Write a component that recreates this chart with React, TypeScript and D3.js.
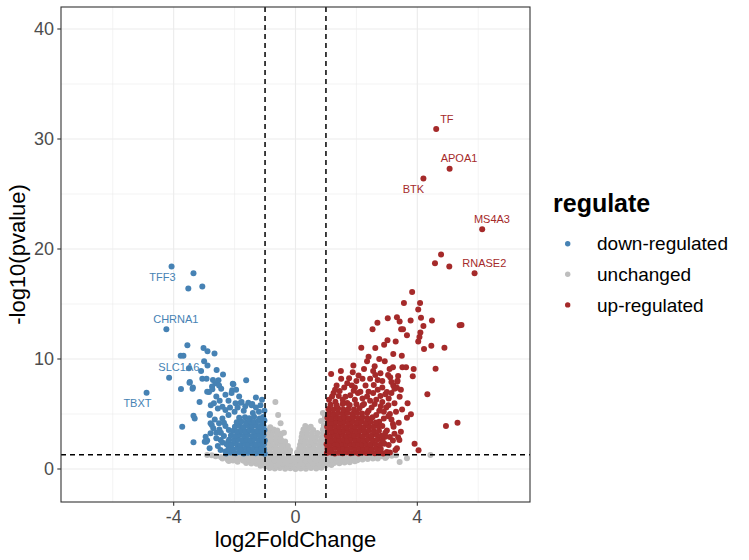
import React from "react";
import * as d3 from "d3";

type P = [number, number];

const categories = ["down-regulated", "unchanged", "up-regulated"];
const colors = ["#4682B4", "#BEBEBE", "#A52A2A"];

const xTicks = [-4, 0, 4];
const yTicks = [0, 10, 20, 30, 40];
const xMinor = [-6, -2, 2, 6];
const yMinor = [5, 15, 25, 35];
const fcCut = [-1, 1];
const pCut = 1.301;

const unchanged: P[] = [
  [-0.85,0.1],[-0.68,0.04],[-0.51,0.08],[-0.34,0.02],[-0.17,0.06],[0,0.01],[0.17,0.05],[0.34,0.03],[0.51,0.09],[0.68,0.05],[0.85,0.12],
  [-1.15,0.3],[-0.98,0.24],[-0.8,0.28],[-0.62,0.22],[-0.44,0.27],[-0.26,0.2],[-0.08,0.25],[0.1,0.21],[0.28,0.26],[0.46,0.23],[0.64,0.29],[0.82,0.25],[1.0,0.31],[1.18,0.36],
  [-1.62,0.55],[-1.45,0.5],[-1.28,0.47],[-1.11,0.52],[-0.94,0.46],[-0.77,0.5],[-0.6,0.44],[-0.43,0.49],[-0.26,0.45],[-0.09,0.48],[0.08,0.44],[0.25,0.5],[0.42,0.46],[0.59,0.51],[0.76,0.47],[0.93,0.53],[1.1,0.49],[1.27,0.55],[1.44,0.52],[1.61,0.58],[1.78,0.62],
  [-2.22,0.82],[-2.05,0.78],[-1.88,0.84],[-1.71,0.76],[-1.54,0.81],[-1.37,0.75],[-1.2,0.8],[-1.03,0.74],[-0.86,0.79],[-0.69,0.73],[-0.52,0.78],[-0.35,0.72],[-0.18,0.77],[-0.01,0.71],[0.16,0.76],[0.33,0.72],[0.5,0.78],[0.67,0.74],[0.84,0.8],[1.01,0.75],[1.18,0.81],[1.35,0.77],[1.52,0.83],[1.69,0.79],[1.86,0.85],[2.03,0.8],[2.2,0.86],[2.37,0.9],[2.54,0.95],
  [-2.62,1.15],[-2.45,1.1],[-2.28,1.17],[-2.11,1.08],[-1.94,1.14],[-1.77,1.07],[-1.6,1.13],[-1.43,1.06],[-1.26,1.12],[-1.09,1.05],[-0.92,1.11],[-0.75,1.04],[-0.58,1.1],[-0.41,1.03],[-0.24,1.09],[-0.07,1.02],[0.1,1.08],[0.27,1.03],[0.44,1.1],[0.61,1.05],[0.78,1.11],[0.95,1.06],[1.12,1.12],[1.29,1.07],[1.46,1.13],[1.63,1.08],[1.8,1.14],[1.97,1.09],[2.14,1.15],[2.31,1.1],[2.48,1.16],[2.65,1.11],[2.82,1.17],[2.99,1.12],[3.16,1.2],[3.3,1.25],
  [-2.9,1.27],[-2.19,0.73],[3.42,0.64],[3.66,0.97],[4.43,1.27],[-2.4,0.95],[2.7,0.95],[2.95,1.0],[-2.75,1.25],[-1.9,0.65],[1.95,0.7],
  [-0.98,1.5],[-0.82,1.46],[-0.66,1.52],[-0.5,1.47],[-0.34,1.53],[-0.19,1.45],
  [-0.95,1.85],[-0.79,1.9],[-0.63,1.83],[-0.47,1.88],[-0.31,1.82],[-0.18,1.7],
  [-0.97,2.2],[-0.81,2.25],[-0.65,2.18],[-0.49,2.24],[-0.35,2.2],[-0.25,2.1],
  [-0.94,2.55],[-0.78,2.6],[-0.62,2.52],[-0.46,2.58],[-0.34,2.5],
  [-0.96,2.9],[-0.8,2.95],[-0.64,2.88],[-0.5,2.92],
  [-0.93,3.25],[-0.77,3.3],[-0.61,3.22],[-0.47,3.2],
  [-0.88,3.55],[-0.72,3.6],[-0.6,3.5],
  [-0.66,6.1],[-0.57,4.9],[-0.49,4.15],[-0.38,3.3],[-0.83,3.8],
  [0.05,1.5],[0.2,1.47],[0.36,1.53],[0.52,1.46],[0.68,1.52],[0.84,1.48],[0.98,1.54],
  [0.12,1.85],[0.27,1.9],[0.43,1.83],[0.59,1.88],[0.75,1.82],[0.9,1.89],
  [0.15,2.2],[0.3,2.25],[0.46,2.18],[0.62,2.24],[0.78,2.19],[0.94,2.26],
  [0.18,2.55],[0.34,2.6],[0.5,2.52],[0.66,2.58],[0.82,2.53],[0.97,2.6],
  [0.2,2.9],[0.36,2.95],[0.52,2.88],[0.68,2.93],[0.85,2.87],[0.98,2.95],
  [0.22,3.25],[0.38,3.3],[0.54,3.22],[0.72,3.27],[0.9,3.24],
  [0.26,3.6],[0.42,3.65],[0.58,3.55],[0.9,3.6],[0.98,3.7],
  [0.32,3.9],[0.5,3.85],[0.93,3.95],
  [0.84,4.36],[0.95,4.5],[0.97,4.75],[0.9,5.1],
];

const downRegulated: P[] = [
  [-4.07,18.4],[-3.35,17.8],[-3.52,16.4],[-3.06,16.6],[-4.24,12.7],[-3.55,11.25],[-3.02,11.0],[-2.89,10.7],[-2.66,10.5],[-3.77,10.3],[-3.68,10.3],
  [-3.5,9.15],[-3.0,9.8],[-2.89,9.4],[-3.1,8.9],[-2.59,9.0],[-2.38,8.6],[-4.15,8.3],[-3.06,8.2],[-2.92,8.2],[-2.53,8.06],[-1.62,8.06],[-3.47,7.9],
  [-2.63,7.8],[-2.06,7.76],[-3.76,7.27],[-3.38,7.3],[-2.74,7.5],[-2.84,7.0],[-2.08,7.15],[-4.89,6.94],[-3.15,6.1],[-2.3,6.75],[-1.77,6.1],[-1.42,5.9],
  [-1.55,6.03],[-1.02,5.3],[-3.72,3.85],[-3.35,2.43],[-3.35,4.85],[-3.31,4.6],[-2.98,2.48],[-2.9,2.6],[-2.79,3.24],[-2.75,4.0],[-2.81,5.0],[-2.78,5.8],
  [-2.68,5.97],[-2.44,7.3],[-2.51,7.6],[-2.04,7.7],[-3.48,7.85],[-3.37,7.4],[-2.71,8.1],[-2.9,7.03],[-2.73,7.24],[-2.49,6.2],[-2.4,5.66],[-2.3,5.36],
  [-1.97,5.97],[-1.8,6.03],[-1.44,5.79],[-2.51,4.15],[-2.79,4.15],[-2.82,4.9],[-2.95,2.94],[-2.93,2.48],[-2.82,1.88],[-2.46,2.64],[-2.19,3.55],
  [-2.21,2.48],[-2.46,1.73],[-2.19,1.79],[-2.0,5.2],[-1.7,5.3],[-1.4,5.1],[-1.2,5.2],[-2.6,3.3],[-2.35,3.0],[-2.55,2.1],[-2.4,4.6],[-2.2,4.9],
  [-2.6,6.6],[-2.2,6.2],[-2.55,5.5],[-2.15,5.6],[-1.9,5.6],[-1.65,5.7],[-1.3,5.6],[-1.15,5.8],[-2.35,4.2],[-2.65,4.5],[-2.7,3.7],[-2.5,3.6],
  [-2.4,2.4],[-2.6,2.8],[-2.3,1.6],[-1.1,6.3],[-1.85,6.6],[-2.1,6.9],[-1.95,7.2],[-1.3,6.5],[-2.3,3.9],[-2.45,3.3],
  [-2.28,1.42],[-2.13,1.5],[-1.97,1.44],[-1.83,1.52],[-1.7,1.41],[-1.56,1.48],[-1.44,1.55],[-1.31,1.43],[-1.19,1.5],[-1.07,1.46],[-1.01,1.38],
  [-2.2,1.85],[-2.05,1.78],[-1.91,1.9],[-1.77,1.82],[-1.63,1.88],[-1.5,1.79],[-1.37,1.92],[-1.25,1.84],[-1.12,1.9],[-1.03,1.8],
  [-2.26,2.25],[-2.1,2.2],[-1.95,2.3],[-1.81,2.18],[-1.67,2.27],[-1.54,2.22],[-1.41,2.32],[-1.28,2.2],[-1.15,2.28],[-1.04,2.24],
  [-2.18,2.65],[-2.02,2.6],[-1.88,2.7],[-1.74,2.62],[-1.6,2.68],[-1.47,2.58],[-1.34,2.72],[-1.21,2.64],[-1.09,2.7],[-1.01,2.6],
  [-2.12,3.05],[-1.97,3.0],[-1.84,3.1],[-1.7,3.02],[-1.57,3.12],[-1.43,3.0],[-1.3,3.08],[-1.17,3.04],[-1.05,3.1],
  [-2.06,3.45],[-1.91,3.4],[-1.77,3.5],[-1.64,3.42],[-1.5,3.52],[-1.37,3.44],[-1.24,3.5],[-1.11,3.42],[-1.02,3.55],
  [-1.99,3.85],[-1.84,3.9],[-1.7,3.82],[-1.56,3.92],[-1.43,3.86],[-1.3,3.95],[-1.17,3.84],[-1.05,3.9],
  [-1.93,4.25],[-1.78,4.3],[-1.62,4.22],[-1.48,4.35],[-1.35,4.28],[-1.22,4.36],[-1.1,4.25],[-1.02,4.4],
  [-1.85,4.65],[-1.66,4.7],[-1.52,4.62],[-1.36,4.75],[-1.18,4.6],[-1.06,4.72],
];

const upRegulated: P[] = [
  [4.62,30.9],[5.06,27.3],[4.2,26.4],[6.13,21.8],[5.88,17.8],[4.78,19.5],[4.58,18.7],[5.05,18.4],[3.83,16.1],[3.56,15.1],[4.09,15.1],[4.03,14.5],
  [3.03,13.7],[3.33,13.8],[3.42,13.4],[3.78,13.5],[4.12,13.75],[4.2,13.0],[4.48,13.5],[5.39,13.06],[5.45,13.1],[3.47,12.7],[3.53,12.7],[3.66,12.15],
  [4.1,12.4],[4.07,12.0],[4.03,11.6],[2.69,13.3],[2.53,12.7],[3.02,11.7],[3.29,11.6],[2.16,11.03],[2.62,11.0],[2.91,11.3],[3.21,10.45],[3.49,10.3],
  [4.22,10.9],[4.46,11.2],[4.89,11.03],[2.35,9.8],[2.93,9.8],[3.2,9.25],[3.51,9.25],[3.63,9.24],[3.88,9.1],[4.6,9.12],[2.6,9.33],[3.09,9.1],
  [1.17,8.64],[1.49,8.9],[1.76,8.24],[1.88,8.8],[2.07,8.5],[2.62,8.55],[2.7,8.1],[3.04,8.55],[3.21,7.6],[3.46,7.2],[3.85,8.43],[4.33,6.8],
  [4.94,3.9],[5.32,4.2],[3.91,2.3],[4.04,1.7],[3.37,8.45],[3.34,7.94],[3.33,7.39],[3.42,6.57],[3.68,5.97],[3.5,5.4],[3.79,4.97],[3.66,4.67],
  [3.39,4.21],[3.46,3.39],[3.37,2.88],[3.41,2.64],[3.33,1.88],[3.11,8.34],[3.35,8.03],[2.79,8.7],[2.57,7.64],[2.4,7.03],[1.91,7.12],[2.13,7.03],
  [1.64,6.57],[1.42,6.64],[1.31,6.12],[2.79,6.64],[3.06,6.42],[3.25,5.97],[3.22,3.85],[2.95,2.94],[3.28,1.73],[3.06,2.18],
  [2.9,4.6],[3.1,5.0],[2.98,5.6],[2.85,6.1],[3.15,4.5],[3.0,3.5],[3.2,2.6],[3.1,1.5],[2.75,5.3],[2.6,5.9],[2.45,6.2],[2.2,6.4],[1.95,6.3],
  [1.7,6.0],[1.2,6.6],[1.6,7.4],[2.3,7.6],[2.0,8.0],[2.45,8.2],[1.35,7.6],[2.85,7.4],[3.0,7.0],
  [1.1,6.3],[1.25,6.9],[1.45,7.1],[1.55,6.3],[1.8,6.7],[1.85,7.6],[2.05,6.9],[2.25,5.9],[2.35,6.6],[2.5,5.6],[2.55,6.9],[2.65,6.3],
  [2.7,7.2],[2.8,5.7],[2.95,6.8],[3.05,5.8],[3.15,6.9],[3.25,7.3],[3.3,5.2],[3.2,4.1],[3.05,4.8],[2.9,5.2],[2.85,3.9],[2.95,3.3],
  [3.1,2.9],[3.25,3.2],[2.75,4.3],[2.65,4.9],[2.4,5.3],[2.2,5.8],[1.95,7.4],[1.7,7.8],[2.2,8.2],[2.55,8.9],[2.85,8.0],[3.15,7.9],
  [1.3,7.2],[1.5,8.2],[2.25,9.1],[1.9,9.4],[2.4,10.2],[2.75,10.0],
  [1.03,1.45],[1.16,1.5],[1.29,1.42],[1.42,1.48],[1.55,1.44],[1.68,1.52],[1.81,1.43],[1.94,1.49],[2.07,1.41],[2.2,1.5],[2.33,1.45],[2.46,1.52],[2.6,1.44],[2.74,1.48],[2.88,1.42],[3.0,1.55],
  [1.05,1.85],[1.18,1.8],[1.31,1.9],[1.44,1.83],[1.57,1.88],[1.7,1.8],[1.83,1.92],[1.96,1.84],[2.09,1.89],[2.22,1.81],[2.35,1.9],[2.5,1.84],[2.65,1.88],[2.8,1.82],
  [1.02,2.25],[1.15,2.2],[1.28,2.3],[1.41,2.22],[1.54,2.28],[1.67,2.2],[1.8,2.32],[1.93,2.24],[2.06,2.29],[2.19,2.21],[2.32,2.3],[2.47,2.23],[2.62,2.28],[2.78,2.2],[2.92,2.3],
  [1.06,2.65],[1.19,2.6],[1.32,2.7],[1.45,2.62],[1.58,2.68],[1.71,2.6],[1.84,2.72],[1.97,2.64],[2.1,2.69],[2.24,2.61],[2.38,2.7],[2.53,2.63],[2.7,2.68],[2.86,2.62],
  [1.03,3.05],[1.16,3.0],[1.29,3.1],[1.42,3.02],[1.55,3.08],[1.68,3.0],[1.81,3.12],[1.94,3.04],[2.07,3.09],[2.21,3.01],[2.35,3.1],[2.5,3.03],[2.66,3.08],[2.82,3.02],
  [1.07,3.45],[1.2,3.4],[1.33,3.5],[1.46,3.42],[1.59,3.48],[1.72,3.4],[1.85,3.52],[1.98,3.44],[2.12,3.49],[2.26,3.41],[2.41,3.5],[2.57,3.43],[2.74,3.48],
  [1.04,3.85],[1.17,3.8],[1.3,3.9],[1.43,3.82],[1.56,3.88],[1.69,3.8],[1.82,3.92],[1.96,3.84],[2.1,3.89],[2.25,3.81],[2.4,3.9],[2.56,3.83],[2.72,3.88],
  [1.08,4.25],[1.21,4.2],[1.34,4.3],[1.47,4.22],[1.6,4.28],[1.74,4.2],[1.88,4.32],[2.02,4.24],[2.16,4.29],[2.31,4.21],[2.47,4.3],[2.64,4.23],
  [1.05,4.65],[1.19,4.6],[1.33,4.7],[1.47,4.62],[1.61,4.68],[1.75,4.6],[1.9,4.72],[2.05,4.64],[2.2,4.69],[2.36,4.61],[2.53,4.7],
  [1.1,5.05],[1.25,5.0],[1.4,5.1],[1.55,5.02],[1.7,5.08],[1.86,5.0],[2.02,5.12],[2.18,5.04],[2.35,5.09],
  [1.08,5.45],[1.24,5.4],[1.4,5.5],[1.57,5.42],[1.74,5.48],[1.92,5.4],[2.1,5.52],
  [1.15,5.85],[1.35,5.8],[1.55,5.9],[1.78,5.82],[2.0,5.88],
];

const series: P[][] = [downRegulated, unchanged, upRegulated];
const drawOrder = [1, 0, 2];

const geneNames = ["TF", "APOA1", "BTK", "MS4A3", "RNASE2", "TFF3", "CHRNA1", "SLC1A6", "TBXT"];
const geneGroup = [2, 2, 2, 2, 2, 0, 0, 0, 0];
const geneLabelX = [4.97, 5.37, 3.87, 6.45, 6.2, -4.37, -3.93, -3.83, -5.19];
const geneLabelY = [31.8, 28.25, 25.4, 22.7, 18.7, 17.45, 13.6, 9.27, 6.03];

const FONT = "'Liberation Sans', Arial, Helvetica, sans-serif";

export default function App() {
  const W = 749, H = 560;
  const left = 61, right = 530, top = 7, bottom = 502;
  const x = d3.scaleLinear().domain([-7.7, 7.7]).range([left, right]);
  const y = d3.scaleLinear().domain([-3, 42]).range([bottom, top]);
  const r = 3;

  return (
    <svg width={W} height={H} style={{ position: "absolute", left: 0, top: 0, background: "#fff" }} fontFamily={FONT}>
      <rect x={0} y={0} width={W} height={H} fill="#fff" />
      <defs>
        <clipPath id="panel">
          <rect x={left} y={top} width={right - left} height={bottom - top} />
        </clipPath>
      </defs>
      {xMinor.map((v) => (
        <line key={"xm" + v} x1={x(v)} x2={x(v)} y1={top} y2={bottom} stroke="#EBEBEB" strokeWidth={0.6} />
      ))}
      {yMinor.map((v) => (
        <line key={"ym" + v} x1={left} x2={right} y1={y(v)} y2={y(v)} stroke="#EBEBEB" strokeWidth={0.6} />
      ))}
      {xTicks.map((v) => (
        <line key={"xg" + v} x1={x(v)} x2={x(v)} y1={top} y2={bottom} stroke="#EBEBEB" strokeWidth={1.1} />
      ))}
      {yTicks.map((v) => (
        <line key={"yg" + v} x1={left} x2={right} y1={y(v)} y2={y(v)} stroke="#EBEBEB" strokeWidth={1.1} />
      ))}
      <g clipPath="url(#panel)">
        {drawOrder.map((si) => (
          <g key={"s" + si} fill={colors[si]}>
            {series[si].map((p, i) => (
              <circle key={i} cx={x(p[0])} cy={y(p[1])} r={r} />
            ))}
          </g>
        ))}
      </g>
      {fcCut.map((v) => (
        <line key={"fc" + v} x1={x(v)} x2={x(v)} y1={top} y2={bottom} stroke="#000" strokeWidth={1.5} strokeDasharray="5,4" />
      ))}
      <line x1={left} x2={right} y1={y(pCut)} y2={y(pCut)} stroke="#000" strokeWidth={1.5} strokeDasharray="5,4" />
      {geneNames.map((g, i) => (
        <text key={g} x={x(geneLabelX[i])} y={y(geneLabelY[i])} dy="0.35em" textAnchor="middle" fontSize={11} fill={colors[geneGroup[i]]}>
          {g}
        </text>
      ))}
      <rect x={left} y={top} width={right - left} height={bottom - top} fill="none" stroke="#333333" strokeWidth={1.1} />
      {xTicks.map((v) => (
        <g key={"xt" + v}>
          <line x1={x(v)} x2={x(v)} y1={bottom} y2={bottom + 3.7} stroke="#333333" strokeWidth={1.1} />
          <text x={x(v)} y={bottom + 21} textAnchor="middle" fontSize={18} fill="#4D4D4D">
            {String(v)}
          </text>
        </g>
      ))}
      {yTicks.map((v) => (
        <g key={"yt" + v}>
          <line x1={left - 3.7} x2={left} y1={y(v)} y2={y(v)} stroke="#333333" strokeWidth={1.1} />
          <text x={left - 7} y={y(v)} dy="0.35em" textAnchor="end" fontSize={18} fill="#4D4D4D">
            {String(v)}
          </text>
        </g>
      ))}
      <text x={(left + right) / 2} y={547} textAnchor="middle" fontSize={22} fill="#000">
        log2FoldChange
      </text>
      <text transform={`translate(25,${(top + bottom) / 2}) rotate(-90)`} textAnchor="middle" fontSize={22} fill="#000">
        -log10(pvalue)
      </text>
      <text x={553} y={212} fontSize={25} fontWeight="bold" fill="#000">
        regulate
      </text>
      {categories.map((c, i) => (
        <g key={c}>
          <circle cx={567.7} cy={243.7 + i * 30.6} r={2.7} fill={colors[i]} />
          <text x={597} y={243.7 + i * 30.6} dy="0.35em" fontSize={19} fill="#000">
            {c}
          </text>
        </g>
      ))}
    </svg>
  );
}
